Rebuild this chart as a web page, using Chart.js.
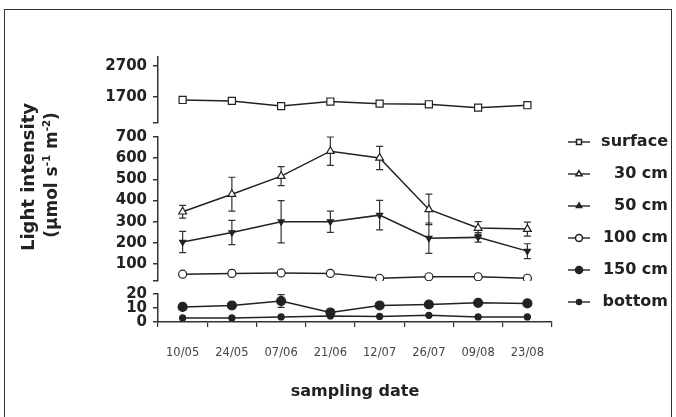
<!DOCTYPE html>
<html>
<head>
<meta charset="utf-8">
<script src="https://cdn.jsdelivr.net/npm/chart.js@4"></script>
<style>
  html, body { margin: 0; padding: 0; background: #fff; }
  #wrap { position: relative; width: 676px; height: 417px; overflow: hidden; }
  #frame { position: absolute; left: 4px; top: 9px; width: 668px; height: 430px;
           border: 1.5px solid #333; box-sizing: border-box; }
  canvas { position: absolute; left: 0; top: 0; }
  .ytitle { position: absolute; font-family: "DejaVu Sans"; font-weight: bold; color: #222;
            white-space: nowrap; transform: translate(-50%, -50%) rotate(-90deg); }
  .ytitle sup { font-size: 0.6em; }
</style>
</head>
<body>
<div id="wrap">
  <div id="frame"></div>
  <canvas id="lightChart" width="676" height="417"></canvas>
  <div class="ytitle" style="left:27px; top:177px; font-size:18px;">Light intensity</div>
  <div class="ytitle" style="left:51px; top:175px; font-size:17px;">(µmol s<sup>-1</sup> m<sup>-2</sup>)</div>
</div>
<script>
const dates = ['10/05', '24/05', '07/06', '21/06', '12/07', '26/07', '09/08', '23/08'];

const surface = [1600, 1570, 1400, 1550, 1480, 1460, 1350, 1430];
const cm30 = [347, 430, 515, 633, 601, 358, 270, 265];
const cm30Err = [30, 80, 45, 67, 55, 72, 30, 33];
const cm50 = [204, 249, 300, 300, 331, 222, 226, 161];
const cm50Err = [50, 57, 100, 50, 70, 72, 22, 35];
const cm100 = [52, 56, 58, 56, 33, 40, 40, 33];
const cm150 = [10.8, 11.8, 15, 6.8, 11.8, 12.5, 13.7, 13.3];
const cm150Err = [0, 0, 4.5, 0, 1.5, 0, 0, 0];
const bottomVals = [2.9, 2.9, 3.6, 4.3, 4, 4.8, 3.6, 3.6];

const topTicks = [1700, 2700];
const midTicks = [100, 200, 300, 400, 500, 600, 700];
const botTicks = [0, 10, 20];

const ink = '#222';
const axisColor = '#333';
const boldFont = size => ({ family: 'DejaVu Sans', size: size, weight: 'bold' });

// one piece of the broken y axis
function segment(min, max, ticks, order, height) {
  return {
    type: 'linear', position: 'left', stack: 'y', stackWeight: height, weight: order,
    min: min, max: max,
    border: { color: axisColor, width: 1.5 },
    grid: { drawOnChartArea: false, tickLength: 5, color: axisColor, lineWidth: 1.5 },
    ticks: {
      autoSkip: false, color: ink, font: boldFont(15), padding: 6,
      callback: v => ticks.includes(v) ? String(v) : ''
    },
    afterBuildTicks: axis => {
      const vals = ticks.includes(min) ? ticks : [min].concat(ticks);
      axis.ticks = vals.map(v => ({ value: v }));
    },
    afterFit: axis => { axis.width = 60; }
  };
}

function gap(order, height) {
  return {
    type: 'linear', position: 'left', stack: 'y', stackWeight: height, weight: order,
    display: false, afterFit: axis => { axis.width = 60; }
  };
}

const errorBars = {
  id: 'errorBars',
  beforeDatasetsDraw(chart) {
    const ctx = chart.ctx;
    chart.data.datasets.forEach((ds, i) => {
      if (!ds.errors) return;
      const scale = chart.scales[ds.yAxisID];
      ctx.save();
      ctx.strokeStyle = axisColor;
      ctx.lineWidth = 1.2;
      chart.getDatasetMeta(i).data.forEach((pt, j) => {
        const e = ds.errors[j];
        if (!e) return;
        const hi = scale.getPixelForValue(ds.data[j] + e);
        const lo = scale.getPixelForValue(ds.data[j] - e);
        ctx.beginPath();
        ctx.moveTo(pt.x, hi); ctx.lineTo(pt.x, lo);
        ctx.moveTo(pt.x - 3.5, hi); ctx.lineTo(pt.x + 3.5, hi);
        ctx.moveTo(pt.x - 3.5, lo); ctx.lineTo(pt.x + 3.5, lo);
        ctx.stroke();
      });
      ctx.restore();
    });
  }
};

function series(label, data, axis, style, radius, fill, extra) {
  return Object.assign({
    label: label, data: data, yAxisID: axis,
    borderColor: ink, borderWidth: 1.5, tension: 0,
    pointStyle: style, pointRadius: radius, pointHoverRadius: radius,
    pointBackgroundColor: fill, pointBorderColor: ink, pointBorderWidth: 1.2
  }, extra || {});
}

const datasets = [
  series('surface', surface, 'yTop', 'rect', 5, '#fff'),
  series('30 cm', cm30, 'yMid', 'triangle', 4.5, '#fff', { errors: cm30Err }),
  series('50 cm', cm50, 'yMid', 'triangle', 3.5, ink, { errors: cm50Err, pointRotation: 180 }),
  series('100 cm', cm100, 'yMid', 'circle', 4, '#fff'),
  series('150 cm', cm150, 'yBot', 'circle', 4.5, ink, { errors: cm150Err }),
  series('bottom', bottomVals, 'yBot', 'circle', 3, ink)
];

// small line-with-marker pictures for the legend
function legendIcon(ds) {
  const c = document.createElement('canvas');
  c.width = 22; c.height = 12;
  const g = c.getContext('2d');
  g.strokeStyle = axisColor; g.lineWidth = 1.5;
  g.beginPath(); g.moveTo(0, 6); g.lineTo(22, 6); g.stroke();
  g.fillStyle = ds.pointBackgroundColor;
  g.strokeStyle = ink;
  Chart.helpers.drawPoint(g, {
    pointStyle: ds.pointStyle, radius: Math.min(ds.pointRadius, 4) - 0.5,
    rotation: ds.pointRotation || 0, borderWidth: 1
  }, 11, 6);
  return c;
}
const icons = datasets.map(legendIcon);

new Chart(document.getElementById('lightChart'), {
  type: 'line',
  data: { labels: dates, datasets: datasets },
  plugins: [errorBars],
  options: {
    responsive: false,
    animation: false,
    devicePixelRatio: 1,
    layout: { padding: { left: 98, right: 8, top: 42, bottom: 15 } },
    plugins: {
      tooltip: { enabled: false },
      // empty title only reserves the space above the plot
      title: { display: true, text: '', font: { size: 10 }, padding: { top: 0, bottom: 3 } },
      legend: {
        position: 'right', align: 'center', maxWidth: 116,
        labels: {
          usePointStyle: true, pointStyleWidth: 22, boxHeight: 12, padding: 16,
          color: ink, font: boldFont(16), textAlign: 'right',
          generateLabels: chart =>
            Chart.defaults.plugins.legend.labels.generateLabels(chart)
              .map((item, i) => Object.assign(item, { pointStyle: icons[i] }))
        }
      }
    },
    scales: {
      x: {
        type: 'category', offset: true,
        border: { color: axisColor, width: 1.5 },
        grid: { offset: true, drawOnChartArea: false, tickLength: 5, color: axisColor, lineWidth: 1.2 },
        ticks: { color: '#444', font: { family: 'DejaVu Sans', size: 11.5 }, padding: 19, maxRotation: 0, autoSkip: false },
        title: { display: true, text: 'sampling date', color: ink, font: boldFont(16), padding: { top: 0, bottom: 1 } },
        afterFit: axis => { axis.height = 80; }
      },
      yTop: segment(850, 3000, topTicks, 5, 66),
      gapA: gap(4, 14),
      yMid: segment(20, 700, midTicks, 3, 144),
      gapB: gap(2, 13),
      yBot: segment(0, 20, botTicks, 1, 28)
    }
  }
});
</script>
</body>
</html>
